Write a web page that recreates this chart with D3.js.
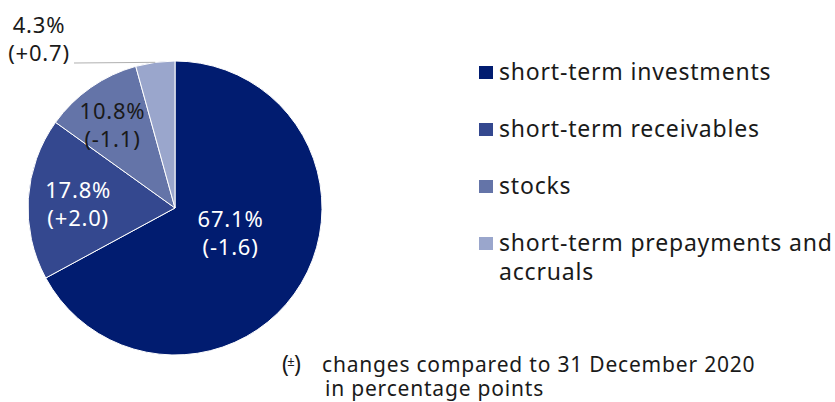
<!DOCTYPE html>
<html>
<head>
<meta charset="UTF-8">
<script src="https://d3js.org/d3.v7.min.js"></script>
<style>
  body { margin: 0; background: #fff; }
  text { font-family: "Noto Sans", "Open Sans", sans-serif; letter-spacing: 0.8px; }
</style>
</head>
<body>
<svg id="chart" width="835" height="402"></svg>
<script>
const categories = ["short-term investments", "short-term receivables", "stocks", "short-term prepayments and accruals"];
const shares = [67.1, 17.8, 10.8, 4.3];
const changes = ["-1.6", "+2.0", "-1.1", "+0.7"];
const colors = ["#011c70", "#34488f", "#6474a8", "#9aa6cc"];

const svg = d3.select("#chart");
const cx = 175, cy = 208, radius = 147;

const pie = d3.pie().sort(null).value(d => d)(shares);
const arc = d3.arc().innerRadius(0).outerRadius(radius);

const g = svg.append("g").attr("transform", "translate(" + cx + "," + cy + ")");

g.selectAll("path")
  .data(pie)
  .join("path")
  .attr("d", arc)
  .attr("fill", (d, i) => colors[i])
  .attr("stroke", "#fff")
  .attr("stroke-width", 1);

// label placement: radius fraction + small nudges
const labelR = [0.44, 0.66, 0.66];
const nudge = [[0, 0], [0, 10], [-7, 5]];
const labelFill = ["#fff", "#fff", "#1a1a1a"];
pie.forEach((d, i) => {
  const a = (d.startAngle + d.endAngle) / 2;
  let x, y, fill;
  if (i < 3) {
    x = Math.sin(a) * radius * labelR[i] + nudge[i][0];
    y = -Math.cos(a) * radius * labelR[i] + nudge[i][1];
    fill = labelFill[i];
  } else {
    // outside label with leader line
    x = 39 - cx;
    y = 47 - cy;
    fill = "#1a1a1a";
    const ex = Math.sin(a) * radius, ey = -Math.cos(a) * radius;
    g.append("line")
      .attr("x1", 74 - cx).attr("y1", 63 - cy)
      .attr("x2", ex).attr("y2", ey)
      .attr("stroke", "#b0b0b0").attr("stroke-width", 1);
  }
  const t = g.append("text")
    .attr("text-anchor", "middle")
    .attr("fill", fill)
    .style("font-size", "22px");
  t.append("tspan").attr("x", x).attr("y", y - 14).text(shares[i].toFixed(1) + "%");
  t.append("tspan").attr("x", x).attr("y", y + 14).text("(" + changes[i] + ")");
});

// legend
const legend = svg.append("g").attr("transform", "translate(479,0)");
const rowY = [80, 137, 194, 251];
categories.forEach((c, i) => {
  legend.append("rect")
    .attr("x", 0).attr("y", rowY[i] - 14)
    .attr("width", 14).attr("height", 13)
    .attr("fill", colors[i]);
  const t = legend.append("text")
    .attr("x", 20).attr("y", rowY[i])
    .attr("fill", "#1a1a1a")
    .style("font-size", "23px");
  if (i === 3) {
    t.append("tspan").attr("x", 20).attr("y", rowY[i]).text("short-term prepayments and");
    t.append("tspan").attr("x", 20).attr("y", rowY[i] + 29).text("accruals");
  } else {
    t.text(c);
  }
});

// footnote
const foot = svg.append("g").attr("fill", "#1a1a1a");
foot.append("text").attr("x", 282).attr("y", 372)
  .style("font-size", "23px").style("letter-spacing", "0px").text("(");
foot.append("text").attr("x", 291).attr("y", 366)
  .attr("text-anchor", "middle")
  .style("font-size", "13px").style("letter-spacing", "0px").text("±");
foot.append("text").attr("x", 294).attr("y", 372)
  .style("font-size", "23px").style("letter-spacing", "0px").text(")");
foot.append("text").attr("x", 322).attr("y", 372)
  .style("font-size", "21px").text("changes compared to 31 December 2020");
foot.append("text").attr("x", 325).attr("y", 396)
  .style("font-size", "21px").text("in percentage points");
</script>
</body>
</html>
